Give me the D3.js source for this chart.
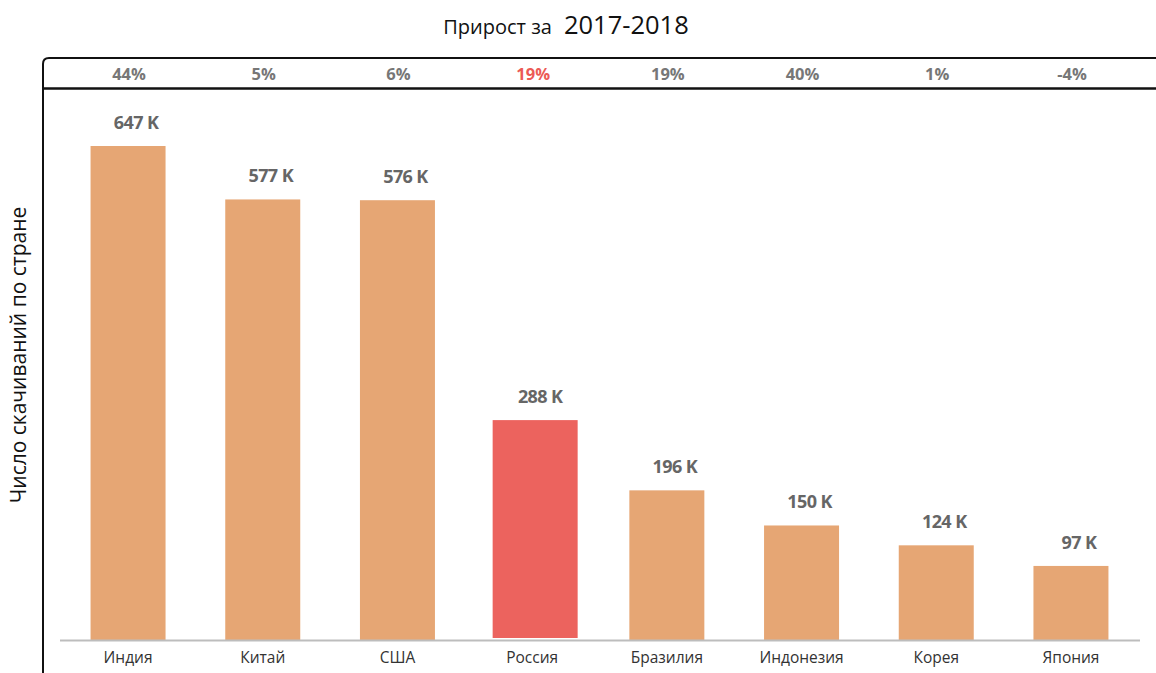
<!DOCTYPE html>
<html>
<head>
<meta charset="utf-8">
<script src="https://cdn.jsdelivr.net/npm/d3@7"></script>
<style>
  body { margin: 0; background: #fff; }
  svg { display: block; font-family: "Open Sans", "Noto Sans", sans-serif; }
</style>
</head>
<body>
<svg id="chart" width="1156" height="673"></svg>
<script>
// Data
var countries = ["Индия", "Китай", "США", "Россия", "Бразилия", "Индонезия", "Корея", "Япония"];
var downloads = [647, 577, 576, 288, 196, 150, 124, 97];
var growth = ["44%", "5%", "6%", "19%", "19%", "40%", "1%", "-4%"];
var highlight = "Россия";

var svg = d3.select("#chart");

var x = d3.scaleBand()
    .domain(countries)
    .range([60.7, 1138.3])
    .padding(0);

var y = d3.scaleLinear()
    .domain([0, 647])
    .range([640, 146]);

// Title
var title = svg.append("text")
    .attr("x", 566)
    .attr("y", 34)
    .attr("text-anchor", "middle")
    .attr("fill", "#111");
title.append("tspan").attr("font-size", 20).text("Прирост за");
title.append("tspan").attr("font-size", 25.5).attr("dx", 12).text("2017-2018");

// Growth strip frame
svg.append("path")
    .attr("d", "M43,673 L43,64 Q43,58 49,58 L1156,58")
    .attr("fill", "none")
    .attr("stroke", "#111")
    .attr("stroke-width", 2);
svg.append("line")
    .attr("x1", 43).attr("x2", 1156)
    .attr("y1", 88.5).attr("y2", 88.5)
    .attr("stroke", "#111")
    .attr("stroke-width", 2.5);

svg.selectAll(".growth")
    .data(countries)
    .enter()
    .append("text")
    .attr("class", "growth")
    .attr("x", function(d) { return x(d) + x.bandwidth() / 2 + 1; })
    .attr("y", 80)
    .attr("text-anchor", "middle")
    .attr("font-size", 16.5)
    .attr("font-weight", "bold")
    .attr("fill", function(d) { return d == highlight ? "#EC5A55" : "#777"; })
    .text(function(d, i) { return growth[i]; });

// Bars
svg.selectAll(".bar")
    .data(countries)
    .enter()
    .append("rect")
    .attr("class", "bar")
    .attr("x", function(d) {
        var w = d == highlight ? 85 : 75;
        return x(d) + x.bandwidth() / 2 - w / 2 + (d == highlight ? 3 : 0);
    })
    .attr("width", function(d) { return d == highlight ? 85 : 75; })
    .attr("y", function(d, i) { return y(downloads[i]); })
    .attr("height", function(d, i) { return y(0) - y(downloads[i]) - (d == highlight ? 2 : 0); })
    .attr("fill", function(d) { return d == highlight ? "#EC635E" : "#E6A674"; });

// Baseline
svg.append("line")
    .attr("x1", 60).attr("x2", 1140)
    .attr("y1", y(0) + 0.5).attr("y2", y(0) + 0.5)
    .attr("stroke", "#bdbdbd")
    .attr("stroke-width", 2);

// Value labels
svg.selectAll(".value")
    .data(countries)
    .enter()
    .append("text")
    .attr("class", "value")
    .attr("x", function(d) { return x(d) + x.bandwidth() / 2 + 8; })
    .attr("y", function(d, i) { return y(downloads[i]) - 17; })
    .attr("text-anchor", "middle")
    .attr("font-size", 18)
    .attr("font-weight", "bold")
    .attr("fill", "#666")
    .attr("letter-spacing", -0.6)
    .text(function(d, i) { return downloads[i] + " K"; });

// Category axis
var xAxis = d3.axisBottom(x).tickSize(0).tickPadding(11);
var gx = svg.append("g")
    .attr("transform", "translate(0," + (y(0) + 1) + ")")
    .call(xAxis);
gx.select(".domain").remove();
gx.selectAll("text")
    .attr("font-size", 15.5)
    .attr("font-family", "'Open Sans', sans-serif")
    .attr("fill", "#333");

// Y axis title
svg.append("text")
    .attr("transform", "translate(26,355) rotate(-90)")
    .attr("text-anchor", "middle")
    .attr("font-size", 21)
    .attr("fill", "#111")
    .text("Число скачиваний по стране");
</script>
</body>
</html>
